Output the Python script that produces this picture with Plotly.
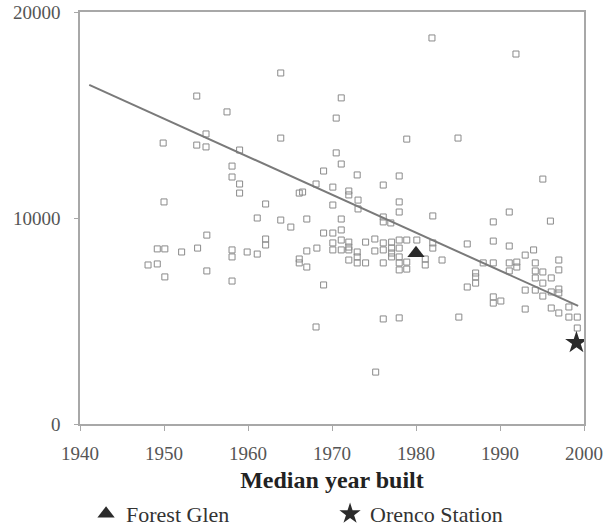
import plotly.graph_objects as go

# Neighbourhoods: median year built vs. value
years = [
    1948.1, 1949.2, 1949.2, 1950.1, 1950.1, 1952.1, 1954.0, 1955.1, 1955.1, 1958.1,
    1958.1, 1958.1, 1959.9, 1950.0, 1959.0, 1953.9, 1957.5, 1955.0, 1949.9, 1953.9,
    1955.0, 1959.0, 1958.1, 1958.1, 1959.0, 1963.9, 1963.9, 1962.1, 1961.1, 1963.9,
    1965.1, 1967.0, 1966.1, 1966.5, 1962.1, 1962.1, 1961.1, 1966.1, 1966.1, 1967.0,
    1967.0, 1971.1, 1970.5, 1978.9, 1970.5, 1971.1, 1969.0, 1973.0, 1978.0, 1968.1,
    1970.1, 1972.0, 1976.1, 1981.9, 1991.9, 1985.0, 1995.1, 1972.0, 1973.1, 1978.0,
    1978.0, 1973.1, 1970.1, 1971.1, 1976.1, 1976.1, 1977.0, 1982.0, 1989.2, 1991.1,
    1996.0, 1969.0, 1970.1, 1971.1, 1971.1, 1970.1, 1970.1, 1971.1, 1972.0, 1972.0,
    1972.0, 1973.0, 1973.0, 1973.0, 1972.0, 1974.0, 1974.0, 1975.1, 1975.1, 1976.1,
    1976.1, 1976.1, 1977.1, 1977.1, 1977.1, 1977.1, 1978.0, 1978.0, 1978.0, 1978.0,
    1978.0, 1978.9, 1978.9, 1978.9, 1980.1, 1968.2, 1969.0, 1976.1, 1978.0, 1968.1,
    1981.1, 1981.1, 1982.0, 1982.0, 1983.1, 1986.1, 1989.2, 1991.1, 1988.0, 1989.2,
    1987.1, 1987.1, 1987.1, 1986.1, 1989.2, 1989.2, 1990.1, 1991.1, 1991.1, 1992.0,
    1992.0, 1993.0, 1994.0, 1994.2, 1994.2, 1994.2, 1995.1, 1996.1, 1997.0, 1997.0,
    1993.0, 1994.2, 1995.1, 1995.1, 1996.1, 1997.0, 1997.0, 1993.0, 1996.1, 1997.0,
    1998.2, 1999.2, 1998.2, 1999.2, 1985.1, 1975.2,
]
values = [
    7720, 7770, 8500, 8500, 7140, 8350, 8540, 9170, 7430, 8450,
    8110, 6940, 8350, 10780, 11210, 15920, 15150, 14080, 13640, 13540,
    13450, 13300, 12520, 11990, 11650, 17040, 13880, 10680, 10000, 9900,
    9560, 9950, 11210, 11260, 8980, 8690, 8250, 8010, 7820, 7620,
    8400, 15830, 14850, 13830, 13160, 12620, 12280, 12090, 12040, 11650,
    11500, 11310, 11600, 18740, 17960, 13880, 11890, 11120, 10870, 10780,
    10290, 10440, 10630, 9950, 10050, 9810, 9760, 10100, 9810, 10290,
    9850, 9270, 9270, 9420, 8930, 8790, 8450, 8450, 8830, 8590,
    8450, 8350, 8110, 7820, 7960, 8830, 7820, 8980, 8400, 8790,
    8450, 7820, 8830, 8540, 8300, 8110, 8930, 8540, 8110, 7820,
    7480, 8930, 7860, 7520, 8930, 8540, 6750, 5100, 5150, 4710,
    8010, 7720, 8790, 8540, 7960, 8740, 8880, 8640, 7820, 7820,
    7330, 7140, 6840, 6650, 6170, 5870, 5970, 7820, 7430, 7860,
    7620, 8200, 8450, 7820, 7430, 7090, 7380, 7090, 7960, 7480,
    6500, 6500, 6840, 6210, 6410, 6550, 6360, 5580, 5630, 5390,
    5190, 5190, 5680, 4660, 5190, 2520,
]

# Fitted trend line endpoints
fit_years = [1941.1, 1999.3]
fit_values = [16460, 5730]

# Highlighted developments
forest_glen_year = [1980.0]
forest_glen_value = [8290]
orenco_year = [1999.1]
orenco_value = [3950]

x_ticks = [1940, 1950, 1960, 1970, 1980, 1990, 2000]
y_ticks = [0, 10000, 20000]

serif = "Liberation Serif, DejaVu Serif, serif"

fig = go.Figure()

fig.add_trace(go.Scatter(
    x=years, y=values, mode="markers", showlegend=False,
    marker=dict(symbol="square-open", size=6, color="#8a8a8a",
                line=dict(width=1, color="#8a8a8a")),
))

fig.add_trace(go.Scatter(
    x=fit_years, y=fit_values, mode="lines", showlegend=False,
    line=dict(color="#7a7a7a", width=2),
))

fig.add_trace(go.Scatter(
    x=forest_glen_year, y=forest_glen_value, mode="markers",
    name="Forest Glen",
    marker=dict(symbol="triangle-up", size=15, color="#2b2b2b"),
))

fig.add_trace(go.Scatter(
    x=orenco_year, y=orenco_value, mode="markers",
    name="Orenco Station",
    marker=dict(symbol="star", size=17, color="#2b2b2b"),
))

fig.update_layout(
    width=609, height=527,
    margin=dict(l=80, r=25, t=12, b=103, autoexpand=False),
    paper_bgcolor="white", plot_bgcolor="white",
    font=dict(family=serif, color="#555555"),
    xaxis=dict(
        range=[1940, 2000], tickvals=x_ticks, ticktext=[str(t) for t in x_ticks],
        showgrid=False, zeroline=False, automargin=True,
        showline=True, linecolor="#a8a8a8", linewidth=1.5, mirror=True,
        ticks="outside", ticklen=5, tickcolor="#a8a8a8",
        ticklabelstandoff=6,
        tickfont=dict(family=serif, size=19, color="#555555"),
        title=dict(text="<b>Median year built</b>", standoff=11,
                   font=dict(family=serif, size=24, color="#222222")),
    ),
    yaxis=dict(
        range=[0, 20000], tickvals=y_ticks, ticktext=[str(t) for t in y_ticks],
        showgrid=False, zeroline=False, automargin=False,
        showline=True, linecolor="#a8a8a8", linewidth=1.5, mirror=True,
        ticks="outside", ticklen=4, tickcolor="#a8a8a8",
        ticklabelstandoff=10,
        tickfont=dict(family=serif, size=19, color="#555555"),
    ),
    legend=dict(
        orientation="h", x=0.012, xanchor="left",
        yref="container", y=0.0645, yanchor="top",
        entrywidth=199, entrywidthmode="pixels",
        font=dict(family=serif, size=22, color="#333333"),
        bgcolor="rgba(0,0,0,0)",
    ),
)

fig.write_html("out.html")
